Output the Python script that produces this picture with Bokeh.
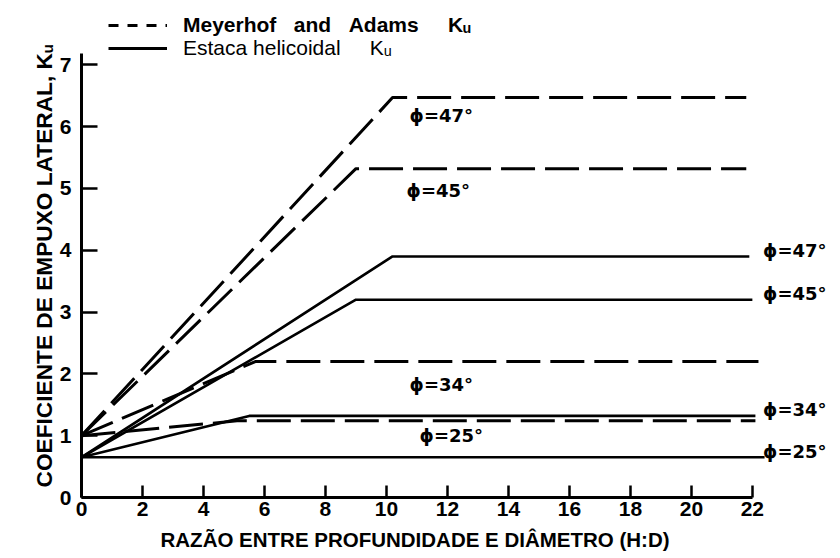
from bokeh.plotting import figure
from bokeh.models import Range1d, FixedTicker, Legend, LegendItem, Title
from bokeh.core.properties import value
from bokeh.embed import file_html
from bokeh.resources import INLINE

# ---------------- data ----------------
phi_deg = [47, 45, 34, 25]

# Meyerhof and Adams Ku (dashed)
meyerhof_start_ku = 1.0
meyerhof_break_hd = [10.2, 9.0, 5.7, 5.1]
meyerhof_ku = [6.47, 5.32, 2.20, 1.24]
meyerhof_end_hd = [21.8, 21.8, 22.2, 22.1]

# Estaca helicoidal Ku (solid)
helix_start_ku = 0.65
helix_break_hd = [10.2, 9.0, 5.5, 0.0]
helix_ku = [3.90, 3.20, 1.32, 0.65]
helix_end_hd = [21.9, 22.0, 22.1, 22.4]

x_ticks = [0, 2, 4, 6, 8, 10, 12, 14, 16, 18, 20, 22]
y_ticks = [0, 1, 2, 3, 4, 5, 6, 7]

NB = "\u00a0"
x_title = "RAZÃO ENTRE PROFUNDIDADE E DIÂMETRO (H:D)"
y_title = "COEFICIENTE DE EMPUXO LATERAL, Kᵤ"
legend_labels = ["Meyerhof" + NB * 3 + "and" + NB * 3 + "Adams" + NB * 5 + "Kᵤ",
                 "Estaca" + NB + "helicoidal" + NB * 5 + "Kᵤ"]

# ---------------- figure ----------------
p = figure(width=840, height=558,
           x_range=Range1d(0, 24.89), y_range=Range1d(0, 7.96),
           output_backend="svg", toolbar_location=None,
           min_border_left=81, min_border_right=0,
           min_border_top=5, min_border_bottom=61)
p.grid.visible = False
p.outline_line_color = None
p.background_fill_color = "white"
p.border_fill_color = "white"

tick_font = "Liberation Sans"
for ax in (p.xaxis[0], p.yaxis[0]):
    ax.axis_line_width = 3
    ax.axis_line_color = "black"
    ax.major_tick_line_width = 2.5
    ax.major_tick_line_color = "black"
    ax.major_tick_out = 0
    ax.minor_tick_in = 0
    ax.minor_tick_out = 0
    ax.major_label_text_font = tick_font
    ax.major_label_text_font_style = "bold"
    ax.major_label_text_font_size = "21px"
    ax.major_label_text_color = "black"

p.xaxis.ticker = FixedTicker(ticks=x_ticks)
p.yaxis.ticker = FixedTicker(ticks=y_ticks)
p.xaxis.bounds = (0, 22)
p.yaxis.bounds = (0, 7.18)
p.xaxis.major_tick_in = 12
p.yaxis.major_tick_in = 16
p.xaxis.major_label_standoff = 4
p.yaxis.major_label_standoff = 10

# axis titles (placed as side titles so they can be aligned like the reference)
xt = Title(text=x_title, align="left", offset=79, standoff=14,
           text_font="Liberation Sans", text_font_style="bold",
           text_font_size="20.5px", text_color="black")
p.add_layout(xt, "below")
yt = Title(text=y_title, align="left", offset=10, standoff=0,
           text_font="Liberation Sans", text_font_style="bold",
           text_font_size="22.7px", text_color="black")
p.add_layout(yt, "left")

# ---------------- curves ----------------
for brk, ku, end in zip(meyerhof_break_hd, meyerhof_ku, meyerhof_end_hd):
    p.line([0, brk, end], [meyerhof_start_ku, ku, ku],
           line_color="black", line_width=3, line_dash="34 10")

for brk, ku, end in zip(helix_break_hd, helix_ku, helix_end_hd):
    xs = [0, brk, end] if brk > 0 else [0, end]
    ys = [helix_start_ku, ku, ku] if brk > 0 else [helix_start_ku, ku]
    p.line(xs, ys, line_color="black", line_width=2.6)

# ---------------- phi labels ----------------
labels = ["ϕ=%d°" % d for d in phi_deg]
mid_dx = [0, -3, 0, 10]
mid_dy = [18, 22, 23, 15]
for lab, ku, dx, dy in zip(labels, meyerhof_ku, mid_dx, mid_dy):
    p.text(x=[11.8], y=[ku], text=[lab], x_offset=dx, y_offset=dy,
           text_align="center", text_baseline="middle",
           text_font=value("DejaVu Sans"), text_font_style="bold",
           text_font_size="18px", text_color="black")
for lab, ku in zip(labels, helix_ku):
    p.text(x=[22.35], y=[ku], text=[lab], x_offset=0, y_offset=-6,
           text_align="left", text_baseline="middle",
           text_font=value("DejaVu Sans"), text_font_style="bold",
           text_font_size="18px", text_color="black")

# ---------------- legend ----------------
nan = float("nan")
leg_dash = p.line(x=[nan, nan], y=[nan, nan], line_color="black", line_width=3, line_dash="10 9")
leg_solid = p.line(x=[nan, nan], y=[nan, nan], line_color="black", line_width=3)

def make_legend(r, label, style, loc):
    lg = Legend(items=[LegendItem(label=label, renderers=[r])],
                location=loc, orientation="vertical",
                glyph_width=59, glyph_height=20, label_standoff=16,
                padding=0, margin=0, spacing=0,
                border_line_color=None, background_fill_alpha=0,
                label_text_font="Liberation Sans", label_text_font_size="21px",
                label_text_font_style=style, label_text_color="black")
    p.add_layout(lg, "center")
    return lg

make_legend(leg_dash, legend_labels[0], "bold", (27, 460))
make_legend(leg_solid, legend_labels[1], "normal", (27, 437))

open("out.html", "w").write(file_html(p, INLINE))
